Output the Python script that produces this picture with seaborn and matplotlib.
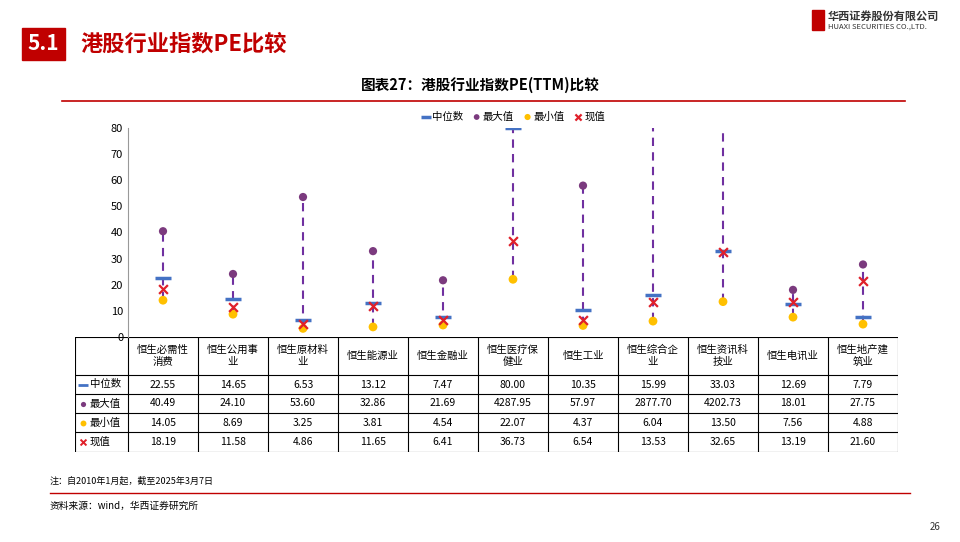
import matplotlib
matplotlib.use("Agg")
import matplotlib.pyplot as plt
import seaborn as sns
import pandas as pd
import numpy as np

plt.rcParams["font.family"] = ["Noto Sans CJK SC", "DejaVu Sans"]

categories = ["恒生必需性\n消费", "恒生公用事\n业", "恒生原材料\n业", "恒生能源业", "恒生金融业",
              "恒生医疗保\n健业", "恒生工业", "恒生综合企\n业", "恒生资讯科\n技业", "恒生电讯业", "恒生地产建\n筑业"]
median = [22.55, 14.65, 6.53, 13.12, 7.47, 80.00, 10.35, 15.99, 33.03, 12.69, 7.79]
maxv = [40.49, 24.10, 53.60, 32.86, 21.69, 4287.95, 57.97, 2877.70, 4202.73, 18.01, 27.75]
minv = [14.05, 8.69, 3.25, 3.81, 4.54, 22.07, 4.37, 6.04, 13.50, 7.56, 4.88]
current = [18.19, 11.58, 4.86, 11.65, 6.41, 36.73, 6.54, 13.53, 32.65, 13.19, 21.60]
series_names = ["中位数", "最大值", "最小值", "现值"]

C_MED, C_MAX, C_MIN, C_CUR = "#4472C4", "#7B3A7E", "#FFC000", "#E0202A"
RED = "#C00000"

fig = plt.figure(figsize=(9.6, 5.42), dpi=100)

# header
fig.patches.append(plt.Rectangle((22/960, 1-60/542), 43/960, 32/542, transform=fig.transFigure, color=RED))
fig.text(43/960, 1-44/542, "5.1", color="white", fontsize=15, fontweight="bold", ha="center", va="center")
fig.text(80/960, 1-44/542, "港股行业指数PE比较", color=RED, fontsize=16, fontweight="bold", va="center")
fig.patches.append(plt.Rectangle((812/960, 1-30/542), 12/960, 20/542, transform=fig.transFigure, color=RED))
fig.text(828/960, 1-16/542, "华西证券股份有限公司", fontsize=8, fontweight="bold", color="#333333", va="center")
fig.text(828/960, 1-27/542, "HUAXI SECURITIES CO.,LTD.", fontsize=5.5, color="#333333", va="center")
fig.text(480/960, 1-85/542, "图表27：港股行业指数PE(TTM)比较", fontsize=10.5, fontweight="bold", ha="center", va="center")
fig.add_artist(plt.Line2D([62/960, 905/960], [1-101/542]*2, color=RED, lw=1.2))

# table
tax = fig.add_axes([75/960, 1-452/542, 823/960, 115/542])
tax.set_xlim(0, 823); tax.set_ylim(115, 0); tax.axis("off")
colw = 770/len(categories)
rows_y = [0, 38, 57, 76, 95, 115]
for yy in rows_y:
    tax.plot([0, 823], [yy, yy], color="black", lw=0.8)
xs = [0] + [53 + i*colw for i in range(len(categories)+1)]
for xx in xs:
    tax.plot([xx, xx], [0, 115], color="black", lw=0.8)
for i, c in enumerate(categories):
    tax.text(53 + (i+0.5)*colw, 19, c, ha="center", va="center", fontsize=7.5)
data_rows = [median, maxv, minv, current]
marks = [("_", C_MED, 60, 2), ("o", C_MAX, 14, 0), ("o", C_MIN, 18, 0), ("x", C_CUR, 18, 1.4)]
for r, (name, vals, mk) in enumerate(zip(series_names, data_rows, marks)):
    yc = (rows_y[r+1] + rows_y[r+2]) / 2
    tax.scatter([8], [yc], marker=mk[0], color=mk[1], s=mk[2], linewidths=mk[3])
    tax.text(15, yc, name, va="center", fontsize=7.5)
    for i, v in enumerate(vals):
        tax.text(53 + (i+0.5)*colw, yc, f"{v:.2f}", ha="center", va="center", fontsize=7.5)

# chart
ax = fig.add_axes([128/960, 1-337/542, 770/960, 209/542])
ax.set_zorder(5)
ax.patch.set_alpha(0)
x = np.arange(len(categories))
df = pd.DataFrame({"cat": x, "中位数": median, "最大值": maxv, "最小值": minv, "现值": current})
ax.vlines(x, df["最小值"], np.minimum(df["最大值"], 80), colors="#7030A0", linestyles=(0, (4, 3)), lw=1.5, zorder=1)
sns.scatterplot(data=df, x="cat", y="中位数", marker="_", s=120, linewidth=2.5, color=C_MED, ax=ax, label="中位数", zorder=3)
sns.scatterplot(data=df, x="cat", y="最大值", marker="o", s=35, color=C_MAX, edgecolor="none", ax=ax, label="最大值", zorder=3)
sns.scatterplot(data=df, x="cat", y="最小值", marker="o", s=40, color=C_MIN, edgecolor="none", ax=ax, label="最小值", zorder=3)
sns.scatterplot(data=df, x="cat", y="现值", marker="x", s=40, linewidth=1.6, color=C_CUR, ax=ax, label="现值", zorder=4)
ax.set_xlim(-0.5, len(categories)-0.5)
ax.set_ylim(-0.05, 80.05)
ax.set_yticks(range(0, 81, 10))
ax.set_yticklabels([str(v) for v in range(0, 81, 10)])
ax.tick_params(axis="y", labelsize=8, length=0)
ax.set_xticks([])
ax.set_xlabel(""); ax.set_ylabel("")
for s in ["top", "right", "bottom"]:
    ax.spines[s].set_visible(False)
ax.spines["left"].set_color("#999999")
ax.legend(loc="lower center", bbox_to_anchor=(0.5, 1.0), ncol=4, frameon=False, fontsize=7.5,
          handletextpad=0.1, columnspacing=0.8, borderaxespad=0.2, markerscale=0.7, handlelength=1.0)

# footer
fig.text(50/960, 1-481/542, "注：自2010年1月起，截至2025年3月7日", fontsize=6.5, style="italic", va="center")
fig.add_artist(plt.Line2D([50/960, 910/960], [1-493/542]*2, color=RED, lw=1.0))
fig.text(50/960, 1-506/542, "资料来源：wind，华西证券研究所", fontsize=7, style="italic", va="center")
fig.text(930/960, 1-527/542, "26", fontsize=7, va="center", color="#333333")

fig.savefig("out.png", dpi=100)
